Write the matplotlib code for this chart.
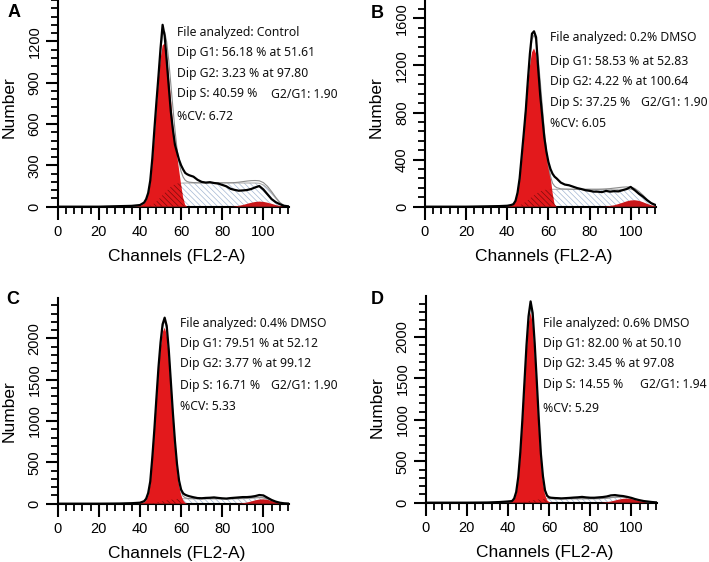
# Histogramas de ciclo celular (ModFit) - 4 paineis
import numpy as np
import matplotlib.pyplot as plt
from matplotlib.ticker import MultipleLocator, FixedLocator

# canais (FL2-A) usados em todas as curvas
canais = [0, 20, 30, 36, 40, 42,
          43, 44, 45, 46, 47, 48, 49, 50, 51, 52,
          53, 54, 55, 56, 57, 58, 59, 60, 61, 62,
          63, 64, 66, 68, 70, 72, 74, 76, 78, 80,
          82, 84, 86, 88, 90, 92, 94, 96, 98, 100,
          102, 104, 106, 108, 110, 112]

# ---- A: Control
hist_a = [0, 0, 4, 6, 12, 30,
          55, 100, 190, 350, 560, 760, 950, 1150, 1320, 1240,
          1060, 870, 690, 560, 450, 395, 340, 300, 270, 245,
          235, 228, 218, 195, 180, 175, 178, 172, 168, 158,
          148, 130, 122, 116, 118, 121, 128, 140, 150, 125,
          90, 55, 33, 18, 7, 3]
fit_a = [0, 0, 2, 4, 8, 25,
         50, 95, 180, 330, 525, 735, 940, 1125, 1250, 1270,
         1195, 1060, 890, 720, 560, 420, 320, 255, 215, 192,
         182, 178, 175, 174, 174, 174, 174, 174, 174, 174,
         174, 174, 175, 178, 182, 186, 189, 190, 188, 175,
         148, 110, 68, 32, 8, 1]
g1_a = [0, 0, 0, 0, 5, 22,
        45, 90, 170, 310, 500, 700, 900, 1070, 1170, 1185,
        1110, 960, 790, 610, 470, 380, 270, 160, 65, 12,
        0, 0, 0, 0, 0, 0, 0, 0, 0, 0,
        0, 0, 0, 0, 0, 0, 0, 0, 0, 0,
        0, 0, 0, 0, 0, 0]
s_a = [0, 0, 0, 0, 0, 0,
       0, 3, 8, 15, 25, 38, 52, 68, 85, 100,
       115, 130, 145, 155, 163, 168, 170, 171, 172, 172,
       172, 172, 172, 172, 172, 172, 172, 172, 172, 172,
       172, 172, 172, 172, 172, 172, 172, 172, 170, 158,
       135, 100, 62, 28, 6, 0]
g2_a = [0, 0, 0, 0, 0, 0,
        0, 0, 0, 0, 0, 0, 0, 0, 0, 0,
        0, 0, 0, 0, 0, 0, 0, 0, 0, 0,
        0, 0, 0, 0, 0, 0, 0, 0, 0, 0,
        0, 0, 2, 6, 12, 20, 28, 34, 37, 35,
        29, 21, 12, 5, 1, 0]
info_a = ["File analyzed: Control", "Dip G1: 56.18 % at 51.61",
          "Dip G2: 3.23 % at 97.80", "Dip S: 40.59 %", "%CV: 6.72"]
razao_a = "G2/G1: 1.90"

# ---- B: 0.2% DMSO
hist_b = [0, 0, 3, 5, 8, 15,
          22, 50, 120, 240, 430, 620, 820, 1070, 1300, 1470,
          1490, 1440, 1180, 950, 770, 590, 470, 380, 320, 280,
          255, 240, 205, 188, 182, 170, 158, 150, 140, 135,
          128, 128, 124, 134, 128, 132, 130, 140, 150, 168,
          140, 110, 85, 55, 30, 15]
fit_b = [0, 0, 1, 3, 6, 12,
         20, 48, 112, 225, 405, 600, 830, 1060, 1260, 1420,
         1460, 1410, 1260, 1070, 860, 650, 480, 350, 260, 200,
         175, 162, 152, 150, 149, 148, 148, 148, 148, 148,
         148, 148, 149, 151, 154, 158, 162, 166, 168, 166,
         155, 130, 98, 62, 30, 8]
g1_b = [0, 0, 0, 0, 3, 10,
        20, 50, 110, 220, 390, 580, 800, 1010, 1190, 1310,
        1345, 1300, 1160, 970, 760, 600, 470, 360, 270, 120,
        20, 0, 0, 0, 0, 0, 0, 0, 0, 0,
        0, 0, 0, 0, 0, 0, 0, 0, 0, 0,
        0, 0, 0, 0, 0, 0]
s_b = [0, 0, 0, 0, 0, 0,
       0, 3, 6, 12, 20, 30, 42, 56, 70, 84,
       97, 110, 120, 130, 137, 142, 145, 147, 148, 148,
       148, 148, 148, 148, 148, 148, 148, 148, 148, 148,
       148, 148, 148, 148, 148, 148, 148, 148, 148, 148,
       140, 118, 88, 55, 25, 5]
g2_b = [0, 0, 0, 0, 0, 0,
        0, 0, 0, 0, 0, 0, 0, 0, 0, 0,
        0, 0, 0, 0, 0, 0, 0, 0, 0, 0,
        0, 0, 0, 0, 0, 0, 0, 0, 0, 0,
        0, 0, 0, 2, 6, 12, 22, 33, 45, 53,
        55, 50, 38, 24, 12, 4]
info_b = ["File analyzed: 0.2% DMSO", "Dip G1: 58.53 % at 52.83",
          "Dip G2: 4.22 % at 100.64", "Dip S: 37.25 %", "%CV: 6.05"]
razao_b = "G2/G1: 1.90"

# ---- C: 0.4% DMSO
hist_c = [0, 0, 2, 6, 12, 30,
          60, 130, 270, 560, 900, 1280, 1650, 1950, 2170, 2250,
          2150, 1860, 1480, 1100, 760, 480, 280, 170, 125, 108,
          98, 90, 78, 68, 66, 70, 72, 76, 70, 65,
          62, 68, 72, 76, 80, 80, 84, 92, 105, 100,
          72, 45, 25, 12, 5, 2]
fit_c = [0, 0, 1, 4, 8, 22,
         50, 115, 250, 540, 880, 1260, 1620, 1920, 2140, 2210,
         2120, 1840, 1460, 1080, 740, 460, 260, 145, 90, 72,
         65, 62, 61, 60, 60, 60, 60, 60, 60, 60,
         60, 60, 61, 63, 66, 70, 74, 78, 78, 72,
         58, 40, 24, 11, 3, 0]
g1_c = [0, 0, 0, 0, 3, 15,
        40, 100, 230, 520, 860, 1230, 1580, 1870, 2070, 2128,
        2050, 1780, 1420, 1040, 700, 420, 230, 110, 40, 10,
        0, 0, 0, 0, 0, 0, 0, 0, 0, 0,
        0, 0, 0, 0, 0, 0, 0, 0, 0, 0,
        0, 0, 0, 0, 0, 0]
s_c = [0, 0, 0, 0, 0, 0,
       0, 2, 4, 6, 10, 15, 20, 25, 30, 35,
       40, 45, 48, 52, 55, 57, 58, 60, 60, 60,
       60, 60, 60, 60, 60, 60, 60, 60, 60, 60,
       60, 60, 60, 60, 60, 62, 64, 68, 72, 70,
       56, 38, 22, 10, 3, 0]
g2_c = [0, 0, 0, 0, 0, 0,
        0, 0, 0, 0, 0, 0, 0, 0, 0, 0,
        0, 0, 0, 0, 0, 0, 0, 0, 0, 0,
        0, 0, 0, 0, 0, 0, 0, 0, 0, 0,
        0, 0, 0, 2, 6, 14, 26, 40, 50, 53,
        47, 35, 20, 9, 3, 0]
info_c = ["File analyzed: 0.4% DMSO", "Dip G1: 79.51 % at 52.12",
          "Dip G2: 3.77 % at 99.12", "Dip S: 16.71 %", "%CV: 5.33"]
razao_c = "G2/G1: 1.90"

# ---- D: 0.6% DMSO
hist_d = [0, 0, 2, 8, 15, 20,
          50, 130, 310, 610, 1000, 1450, 1900, 2250, 2430, 2290,
          1920, 1470, 1000, 590, 320, 150, 85, 65, 60, 58,
          56, 55, 52, 55, 58, 62, 65, 70, 64, 60,
          60, 64, 68, 75, 88, 92, 85, 80, 70, 58,
          42, 30, 20, 14, 8, 4]
fit_d = [0, 0, 1, 5, 10, 15,
         40, 115, 290, 580, 965, 1410, 1850, 2200, 2370, 2240,
         1860, 1420, 960, 570, 300, 140, 75, 55, 50, 48,
         48, 48, 48, 48, 48, 48, 48, 48, 48, 48,
         48, 49, 51, 55, 62, 68, 72, 72, 68, 58,
         44, 30, 17, 8, 2, 0]
g1_d = [0, 0, 0, 0, 2, 8,
        35, 105, 270, 550, 930, 1370, 1800, 2150, 2300, 2170,
        1800, 1370, 920, 540, 260, 100, 30, 8, 2, 0,
        0, 0, 0, 0, 0, 0, 0, 0, 0, 0,
        0, 0, 0, 0, 0, 0, 0, 0, 0, 0,
        0, 0, 0, 0, 0, 0]
s_d = [0, 0, 0, 0, 0, 0,
       0, 2, 3, 5, 8, 12, 16, 20, 24, 28,
       32, 36, 39, 42, 44, 46, 47, 48, 48, 48,
       48, 48, 48, 48, 48, 48, 48, 48, 48, 48,
       48, 48, 50, 54, 60, 64, 66, 66, 62, 52,
       38, 26, 15, 7, 2, 0]
g2_d = [0, 0, 0, 0, 0, 0,
        0, 0, 0, 0, 0, 0, 0, 0, 0, 0,
        0, 0, 0, 0, 0, 0, 0, 0, 0, 0,
        0, 0, 0, 0, 0, 0, 0, 0, 0, 0,
        0, 0, 2, 6, 14, 26, 38, 47, 50, 44,
        32, 19, 9, 3, 1, 0]
info_d = ["File analyzed: 0.6% DMSO", "Dip G1: 82.00 % at 50.10",
          "Dip G2: 3.45 % at 97.08", "Dip S: 14.55 %", "%CV: 5.29"]
razao_d = "G2/G1: 1.94"

ticks_ab = [[0, 300, 600, 900, 1200], [0, 400, 800, 1200, 1600]]
ticks_cd = [0, 500, 1000, 1500, 2000]

W, H = 709, 562
plt.rcParams['hatch.linewidth'] = 0.5
fig = plt.figure(figsize=(W / 100, H / 100), dpi=100)

VERMELHO = '#e3191c'
VERMELHO2 = '#c8161a'
AZUL_HACH = '#a3b7d3'
fonte_eixo = 'Liberation Sans'
fonte_info = 'Noto Sans'
HACH = '\\' * 6

# posicao em pixels: esquerda, topo do eixo, base do eixo, ylim, ticks
paineis = [
    ('A', hist_a, fit_a, g1_a, s_a, g2_a, info_a, razao_a,
     57.7, 0, 206.7, 1500, ticks_ab[0], 60, (13.7, 12.7),
     176.7, [32.3, 52.7, 73, 94, 116], 270.7, 0.484),
    ('B', hist_b, fit_b, g1_b, s_b, g2_b, info_b, razao_b,
     425.0, 0, 206.7, 1756, ticks_ab[1], 80, (377.3, 13.3),
     550.0, [37.7, 61, 81.7, 102.3, 123.3], 640.7, 0.484),
    ('C', hist_c, fit_c, g1_c, s_c, g2_c, info_c, razao_c,
     57.7, 298.3, 503.7, 2484, ticks_cd, 100, (13.0, 299.3),
     180.0, [323.7, 343.3, 363.7, 385.3, 406], 270.7, 0.451),
    ('D', hist_d, fit_d, g1_d, s_d, g2_d, info_d, razao_d,
     425.7, 296.0, 502.7, 2495, ticks_cd, 100, (377.7, 299.3),
     543.3, [323.7, 343.7, 364, 384.3, 408.7], 640.0, 0.46),
]

x = np.array(canais)
for (letra, hist, fit, g1, s, g2, info, razao, esq, topo, base, ymax,
     yticks, passo_min, pos_letra, tx, tys, tx2, ylab_y) in paineis:
    largura = 231.4
    ax = fig.add_axes([esq / W, (H - base) / H, largura / W, (base - topo) / H])
    g1 = np.array(g1); s = np.array(s); g2 = np.array(g2)

    # fase S (hachurada)
    ax.fill_between(x, 0, s, facecolor='white', edgecolor=AZUL_HACH,
                    hatch=HACH, linewidth=0, zorder=1)
    ax.plot(x, s, color='#a8a8a8', lw=0.7, zorder=2)
    # G1
    ax.fill_between(x, 0, g1, facecolor=VERMELHO, edgecolor='none',
                    linewidth=0, zorder=3)
    # sobreposicao S / G1
    ax.fill_between(x, 0, np.minimum(s, g1), facecolor='none',
                    edgecolor='#7a0c0c', hatch=HACH, linewidth=0, zorder=4)
    # G2
    ax.fill_between(x, 0, g2, facecolor=VERMELHO2, edgecolor='none',
                    linewidth=0, zorder=4)
    ax.plot(x, fit, color='#8c8c8c', lw=0.8, zorder=5)
    ax.plot(x, hist, color='black', lw=1.6, zorder=6)

    ax.set_xlim(0, 112.5)
    ax.set_ylim(0, ymax)
    ax.spines['top'].set_visible(False)
    ax.spines['right'].set_visible(False)
    ax.spines['left'].set_linewidth(1.5)
    ax.spines['bottom'].set_linewidth(1.5)
    ax.set_xticks([0, 20, 40, 60, 80, 100])
    ax.xaxis.set_minor_locator(MultipleLocator(4))
    ax.yaxis.set_major_locator(FixedLocator(yticks))
    ax.yaxis.set_minor_locator(MultipleLocator(passo_min))
    ax.tick_params(which='major', direction='out', length=9, width=1.5,
                   labelsize=10.5)
    ax.tick_params(which='minor', direction='out', length=5, width=1.3)
    ax.tick_params(axis='x', pad=4)
    ax.tick_params(axis='y', pad=2.5, labelrotation=90)
    for lab in ax.get_xticklabels() + ax.get_yticklabels():
        lab.set_fontfamily(fonte_eixo)
    for lab in ax.get_yticklabels():
        lab.set_va('center')

    ax.set_xlabel('Channels (FL2-A)', fontsize=12.5, family=fonte_eixo)
    ax.set_ylabel('Number', fontsize=12.5, family=fonte_eixo)
    ax.xaxis.set_label_coords(0.514, -0.205)
    ax.yaxis.set_label_coords(-0.177, ylab_y)

    fig.text(pos_letra[0] / W, 1 - pos_letra[1] / H, letra, fontsize=13,
             fontweight='bold', family=fonte_eixo, ha='center', va='center')
    for linha, ty in zip(info, tys):
        fig.text(tx / W, 1 - ty / H, linha, fontsize=8.8, family=fonte_info,
                 ha='left', va='center', color='#111111')
    fig.text(tx2 / W, 1 - tys[3] / H, razao, fontsize=8.8, family=fonte_info,
             ha='left', va='center', color='#111111')

fig.savefig('out.png', dpi=100)
